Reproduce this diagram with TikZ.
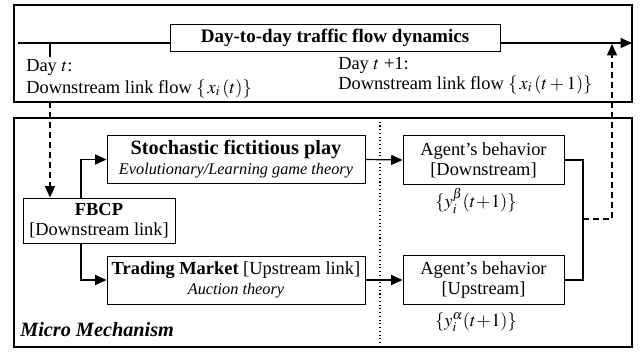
\documentclass[tikz,border=0pt]{standalone}
\usepackage{mathptmx}
\usepackage{fontspec}
\setmainfont{Liberation Serif}
\usetikzlibrary{arrows.meta}
\newcommand\mainfs{\fontsize{13.8}{15}\selectfont}
\newcommand\headfs{\fontsize{15.2}{15}\selectfont}
\newcommand\subfs{\fontsize{12.2}{14}\selectfont}
\begin{document}
\begin{tikzpicture}[x=0.75pt, y=-0.75pt,
  every node/.style={font=\mainfs},
  frame/.style={line width=1.1pt},
  box/.style={draw, line width=0.7pt, fill=white, align=center, inner sep=0pt},
  lbl/.style={inner sep=0pt, anchor=base west},
  wire/.style={line width=0.9pt},
  link/.style={wire, -{Triangle[length=8.5pt,width=7.5pt]}},
  dlink/.style={link, dash pattern=on 4.5pt off 3pt}]
\useasboundingbox (0,0) rectangle (640,354);

% two frames: macro dynamics (top) and micro mechanism (bottom)
\draw[frame] (14,5) rectangle (632,102);
\draw[frame] (14,118) rectangle (632,347);
\draw[dotted, line width=0.8pt] (380,118) -- (380,347);

% time line with its title
\node[box, minimum width=247.5pt, minimum height=20.25pt,
  font=\fontsize{14.3}{15}\selectfont\bfseries]
  (title) at (335,37.5) {Day-to-day traffic flow dynamics};
\coordinate (tl0) at (18,43);
\coordinate (tl1) at (632,43);
\coordinate (tick) at (50,57);
\draw[wire] (tl0) -- (title.west |- tl0);
\draw[link] (title.east |- tl0) -- (tl1);
\draw[wire] (tl0 -| tick) -- (tick);

\node[lbl] (dayt) at (26,71) {Day $t$:};
\node[lbl] (flowt) at (26,93) {Downstream link flow $\{\,x_i\,(t)\}$};
\node[lbl] (dayt1) at (338,69) {Day $t$ +1:};
\node[lbl] (flowt1) at (338,89) {Downstream link flow $\{\,x_i\,(t+1)\}$};

% micro mechanism boxes
\node[box, minimum width=114pt, minimum height=33.75pt] (fbcp) at (99,220.5)
  {\textbf{FBCP}\\{[}Downstream link{]}};
\node[box, minimum width=193.5pt, minimum height=36pt] (stoch) at (236,159.5)
  {{\headfs\bfseries Stochastic fictitious play}\\\subfs\itshape Evolutionary/Learning game theory};
\node[box, minimum width=193.5pt, minimum height=36pt] (trade) at (236,280)
  {\textbf{Trading Market} {[}Upstream link{]}\\\subfs\itshape Auction theory};
\node[box, minimum width=120.75pt, minimum height=36.75pt] (adown) at (483.5,160)
  {Agent’s behavior\\{[}Downstream{]}};
\node[box, minimum width=120.75pt, minimum height=36.75pt] (aup) at (483.5,280)
  {Agent’s behavior\\{[}Upstream{]}};
\node (ybeta) at (476,201) {$\{y_i^{\beta}(t\!+\!1)\}$};
\node (yalpha) at (476,322) {$\{y_i^{\alpha}(t\!+\!1)\}$};
\node[lbl, font=\headfs\bfseries\itshape] (micro) at (20,336) {Micro Mechanism};

% connectors
\coordinate (d0) at (50,102);
\draw[dlink] (d0) -- (d0 |- fbcp.north);
\coordinate (fx) at (81,0);
\draw[link] (fbcp.north -| fx) |- (stoch.west);
\draw[link] (fbcp.south -| fx) |- (trade.west);
\draw[link] (stoch.east) -- (adown.west);
\draw[link] (trade.east) -- (aup.west);
\coordinate (jn) at (583,219);
\coordinate (up) at (612,44);
\draw[wire] (adown.east) -| (jn) |- (aup.east);
\draw[dlink] (jn) -| (up);
\end{tikzpicture}
\end{document}
